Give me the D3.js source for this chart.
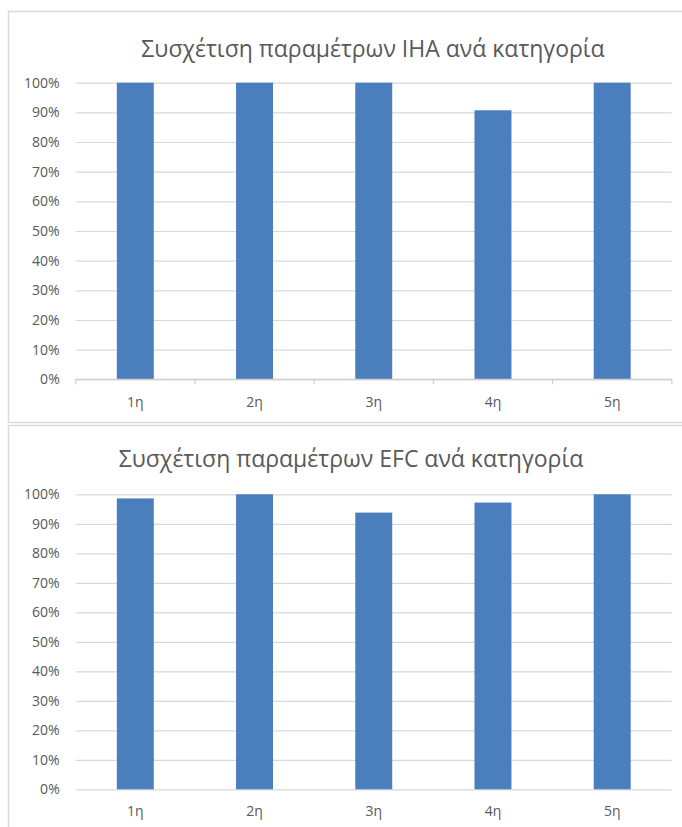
<!DOCTYPE html>
<html>
<head>
<meta charset="utf-8">
<script src="https://cdn.jsdelivr.net/npm/d3@7"></script>
<style>
  html, body { margin: 0; padding: 0; background: #ffffff; }
  svg { display: block; }
  text { font-family: "Open Sans", "Noto Sans", sans-serif; fill: #595959; }
</style>
</head>
<body>
<svg id="chart" width="682" height="827"></svg>
<script>
// Categories shared by both panels
const categories = ["1η", "2η", "3η", "4η", "5η"];

// Share of correlated parameters per category (fractions of 1)
const ihaValues = [1.00, 1.00, 1.00, 0.907, 1.00];
const efcValues = [0.986, 1.00, 0.938, 0.972, 1.00];

// Y-axis ticks
const yTicks = [0, 0.1, 0.2, 0.3, 0.4, 0.5, 0.6, 0.7, 0.8, 0.9, 1.0];

const titles = [
  "Συσχέτιση παραμέτρων ΙΗΑ ανά κατηγορία",
  "Συσχέτιση παραμέτρων EFC ανά κατηγορία"
];

const barColor = "#4a7ebd";
const gridColor = "#d9d9d9";
const frameColor = "#d9d9d9";

const svg = d3.select("#chart");

const panels = [
  { title: titles[0], values: ihaValues, frameTop: 11, frameBottom: 422,
    titleX: 373, titleY: 57, yTop: 82.7, yBottom: 379.3, labelY: 407, axisTicks: true },
  { title: titles[1], values: efcValues, frameTop: 425, frameBottom: 840,
    titleX: 351, titleY: 467, yTop: 494.3, yBottom: 789.3, labelY: 816, axisTicks: false }
];

const plotLeft = 75.7, plotRight = 671.8;

panels.forEach(p => {
  const g = svg.append("g");

  // panel frame
  g.append("rect")
    .attr("x", 8.5).attr("y", p.frameTop + 0.5)
    .attr("width", 700).attr("height", p.frameBottom - p.frameTop)
    .attr("fill", "#ffffff")
    .attr("stroke", frameColor).attr("stroke-width", 1.5);

  const x = d3.scaleBand()
    .domain(categories)
    .range([plotLeft, plotRight])
    .paddingInner(0.69)
    .paddingOuter(0.345);

  const y = d3.scaleLinear()
    .domain([0, 1])
    .range([p.yBottom, p.yTop]);

  // title
  g.append("text")
    .attr("x", p.titleX).attr("y", p.titleY)
    .attr("text-anchor", "middle")
    .style("font-size", "23px")
    .text(p.title);

  // y axis: gridlines + percent labels
  const yAxis = d3.axisLeft(y)
    .tickValues(yTicks)
    .tickSize(-(plotRight - plotLeft))
    .tickPadding(16)
    .tickFormat(d3.format(".0%"));

  const ya = g.append("g")
    .attr("transform", `translate(${plotLeft},0)`)
    .call(yAxis);
  ya.select(".domain").remove();
  ya.selectAll(".tick line").attr("stroke", gridColor).attr("stroke-width", 1.2);
  ya.selectAll(".tick text")
    .style("font-size", "14px")
    .attr("fill", "#595959");

  // bars
  g.selectAll("rect.bar")
    .data(p.values)
    .join("rect")
    .attr("class", "bar")
    .attr("x", (d, i) => x(categories[i]))
    .attr("width", x.bandwidth())
    .attr("y", d => y(d))
    .attr("height", d => y(0) - y(d))
    .attr("fill", barColor);

  // x axis: category labels (tick marks only on the upper panel)
  const xAxis = d3.axisBottom(x).tickSize(0).tickPadding(0);
  const xa = g.append("g")
    .attr("transform", `translate(0,${p.yBottom})`)
    .call(xAxis);
  xa.select(".domain").remove();
  xa.selectAll(".tick text")
    .attr("y", p.labelY - p.yBottom)
    .attr("dy", null)
    .style("font-size", "14px")
    .attr("fill", "#595959");

  if (p.axisTicks) {
    g.append("line")
      .attr("x1", plotLeft).attr("x2", plotRight)
      .attr("y1", p.yBottom).attr("y2", p.yBottom)
      .attr("stroke", "#cfcfcf").attr("stroke-width", 1.2);
    const boundaries = d3.range(categories.length + 1)
      .map(i => plotLeft + i * x.step());
    g.selectAll("line.sep")
      .data(boundaries)
      .join("line")
      .attr("class", "sep")
      .attr("x1", d => d).attr("x2", d => d)
      .attr("y1", p.yBottom).attr("y2", p.yBottom + 5)
      .attr("stroke", "#cfcfcf").attr("stroke-width", 1.2);
  }
});
</script>
</body>
</html>
